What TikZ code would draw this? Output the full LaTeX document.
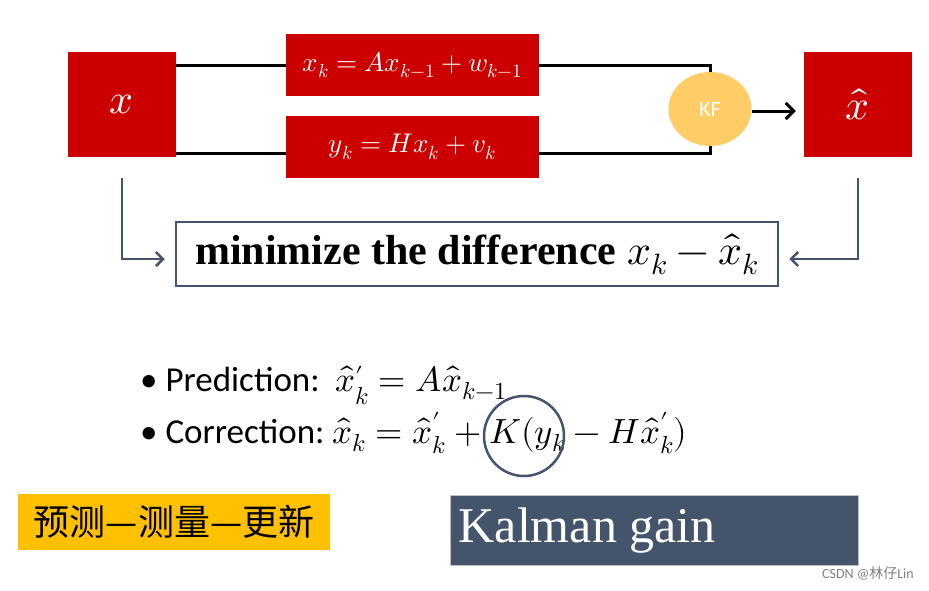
\documentclass[tikz,border=0pt]{standalone}
\usepackage{unicode-math}
\setmainfont{Liberation Serif}
\setsansfont{Carlito}
\setmathfont{Latin Modern Math}
\newfontfamily\cjkfont{Noto Sans CJK SC}
\usetikzlibrary{positioning,calc,arrows.meta,shapes.geometric}
\definecolor{boxred}{HTML}{CC0000}
\definecolor{slate}{HTML}{44546A}
\definecolor{kforange}{HTML}{FFCC66}
\definecolor{goldbox}{HTML}{FFC000}
\newcommand{\fsz}[1]{\fontsize{#1}{#1}\selectfont}
\newcommand{\xh}{\smash{\hat{x}}}
\newcommand{\pr}{\raisebox{-6pt}{$\scriptstyle\prime$}}
\begin{document}
\begin{tikzpicture}[x=1pt,y=-1pt,
    redbox/.style={fill=boxred,text=white,inner sep=0pt},
    link/.style={line width=3pt},
    feedback/.style={draw=slate,line width=2.5pt,-{Straight Barb[length=7pt,width=14pt]}}]
                    \useasboundingbox (0,0) rectangle (929,590);
                    % state and estimate
                    \node[redbox,minimum width=108pt,minimum height=105pt] (X) at (122,104.5) {\fsz{42}$x$};
                    \node[redbox,minimum width=108pt,minimum height=105pt] (XH) at (858,104.5) {\fsz{42}$\hat{x}$};
                    % model equations
                    \node[redbox,minimum width=253pt,minimum height=62pt] (E1) at (412.5,65) {\fsz{27}$x_k = Ax_{k-1} + w_{k-1}$};
                    \node[redbox,minimum width=253pt,minimum height=62pt] (E2) at (412.5,147) {\fsz{27}$y_k = Hx_k + v_k$};
                    \node[ellipse,fill=kforange,text=white,minimum width=83pt,minimum height=74pt,inner sep=0pt] (KF) at (710,109) {\sffamily\fsz{22}KF};
                    \draw[link] (X.east |- E1.west) -- (E1.west);
                    \draw[link] ($(X.east |- E2.west)+(0,6)$) -- ($(E2.west)+(0,6)$);
                    \draw[link] (E1.east) -| (KF.north);
                    \draw[link] ($(E2.east)+(0,6)$) -| (KF.south);
                    \draw[link,-{Straight Barb[length=8pt,width=16pt]},shorten >=8pt] ($(KF.east)+(0,2)$) -- ($(XH.west |- KF.east)+(0,2)$);
                    % objective
                    \node[draw=slate,line width=2.5pt,fill=white,minimum width=602pt,minimum height=64pt,inner sep=0pt] (M) at (477,254)
                        {\fsz{42}\textbf{minimize the difference} $x_k - \hat{x}_k$};
                    \draw[feedback,shorten <=21pt,shorten >=10pt] (X.south) |- ($(M.west)+(0,5)$);
                    \draw[feedback,shorten <=21pt,shorten >=10pt] (XH.south) |- ($(M.east)+(0,5)$);
                    % update steps
                    \node[anchor=base west,inner sep=0pt] (P) at (140,391) {\sffamily\fsz{35}• Prediction:\ \ $\xh^{\pr}_k = A\xh_{k-1}$};
                    \node[anchor=base west,inner sep=0pt] (C) at (140,443) {\sffamily\fsz{35}• Correction:\ $\xh_k = \xh^{\pr}_k + K(y_k - H\xh^{\pr}_k)$};
                    \node[circle,draw=slate,line width=2.5pt,minimum size=80pt,inner sep=0pt] (KG) at (524,436) {};
                    % notes
                    \node[fill=goldbox,minimum width=312pt,minimum height=56pt,inner sep=0pt] (Y) at (174,522) {\cjkfont\fsz{36}预测—测量—更新};
                    \node[fill=slate,draw=gray!50,line width=1pt,minimum width=408pt,minimum height=70pt,inner sep=0pt] (K) at (654,530) {};
                    \node[anchor=west,text=white,inner sep=0pt] (KT) at ($(K.west)+(9,1)$) {\fsz{50}Kalman gain};
                    \node[anchor=east,text=gray,inner sep=0pt] (W) at (914,573) {\sffamily\fsz{14}CSDN @{\cjkfont 林仔}Lin};
                \end{tikzpicture}
\end{document}
